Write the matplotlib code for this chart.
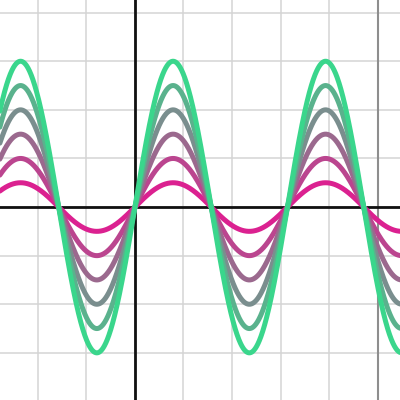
import numpy as np
import matplotlib
matplotlib.use("Agg")
import matplotlib.pyplot as plt
from matplotlib.colors import to_rgb

# family of curves y = a * sin(2x)
amplitudes = [0.5, 1.0, 1.5, 2.0, 2.5, 3.0]
freq = 2.0
color_start = "#db2190"   # smallest amplitude
color_end = "#3ad68c"     # largest amplitude
marker_x = 5.0            # gray vertical line

xlim = (-2.78, 5.46)
ylim = (-3.97, 4.26)

fig = plt.figure(figsize=(4, 4), dpi=100)
ax = fig.add_axes([0, 0, 1, 1])
ax.set_xlim(*xlim)
ax.set_ylim(*ylim)
ax.axis("off")

# grid
for gx in range(-3, 7):
    ax.axvline(gx, color="#d4d4d4", lw=1.1, zorder=0)
for gy in range(-4, 5):
    ax.axhline(gy, color="#d4d4d4", lw=1.1, zorder=0)

ax.axvline(marker_x, color="#8e8e8e", lw=1.5, zorder=1)
ax.axhline(0, color="#111111", lw=2.0, zorder=2)
ax.axvline(0, color="#111111", lw=2.0, zorder=2)

x = np.linspace(xlim[0] - 0.1, xlim[1] + 0.1, 2000)
c0 = np.array(to_rgb(color_start))
c1 = np.array(to_rgb(color_end))
n = len(amplitudes)
for i, a in enumerate(amplitudes):
    t = i / (n - 1)
    col = (1 - t) * c0 + t * c1
    ax.plot(x, a * np.sin(freq * x), color=col, lw=3.6,
            solid_capstyle="round", zorder=3 + i)

fig.savefig("out.png", dpi=100)
